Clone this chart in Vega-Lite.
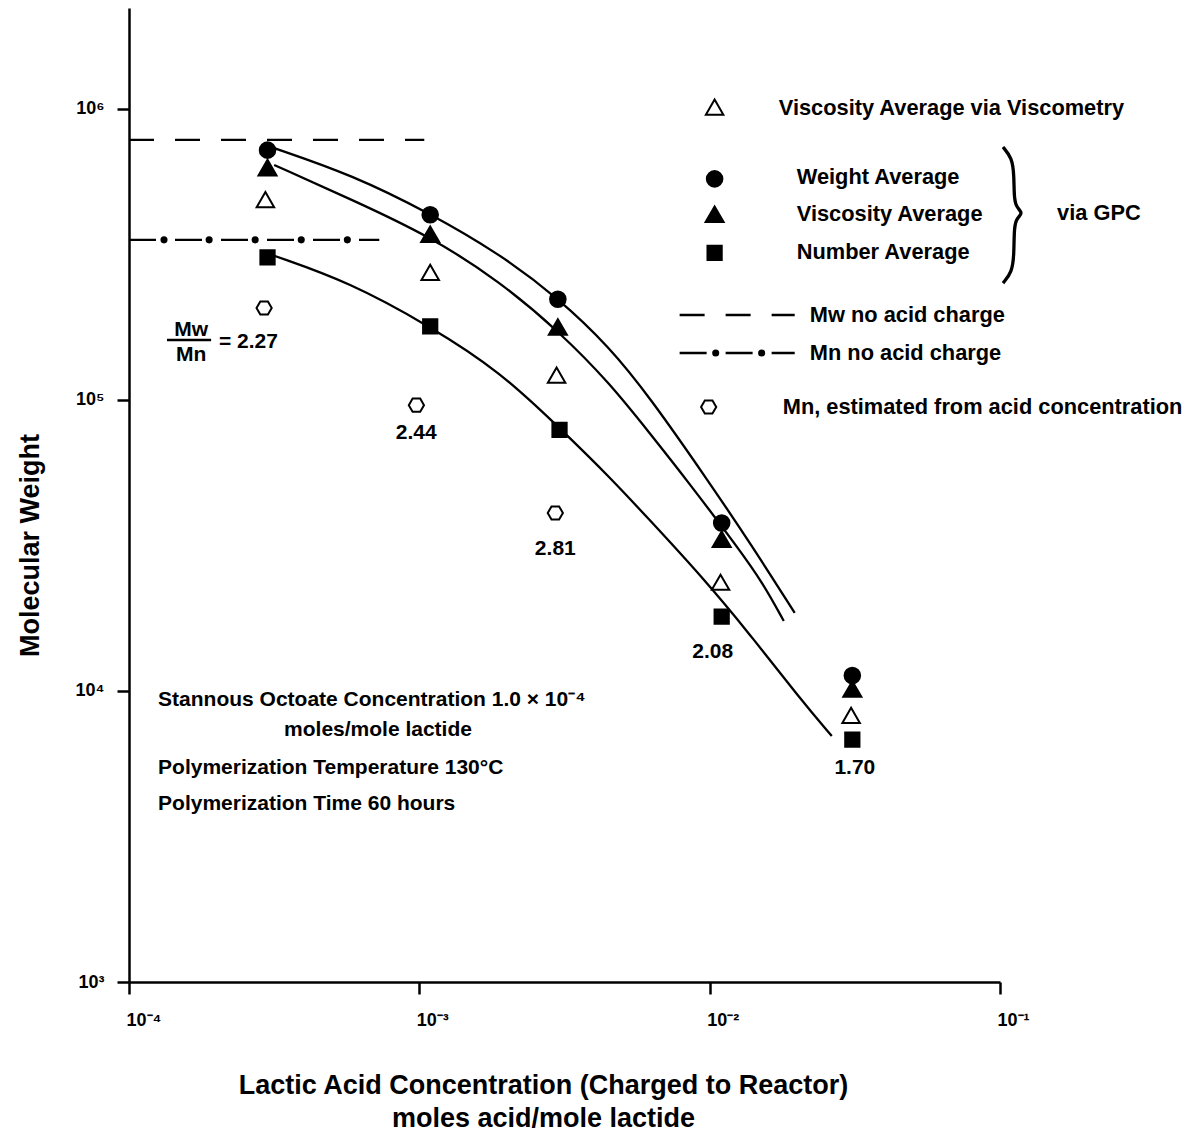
{
  "$schema": "https://vega.github.io/schema/vega-lite/v6.json",
  "width": 871,
  "height": 974,
  "autosize": {"type": "none"},
  "padding": {"left": 129, "top": 8, "right": 195, "bottom": 149},
  "background": "white",
  "config": {
    "view": {"stroke": null},
    "axis": {
      "labelFont": "Liberation Sans", "titleFont": "Liberation Sans",
      "labelFontWeight": "bold", "titleFontWeight": "bold",
      "labelColor": "black", "titleColor": "black",
      "domainColor": "black", "tickColor": "black", "grid": false,
      "domainWidth": 2.5, "tickWidth": 2.5, "tickSize": 12,
      "labelFontSize": 18, "titleFontSize": 27
    }
  },
  "datasets": {
    "points": [
      {"series": "Weight Average", "x": 0.0003, "y": 722000},
      {"series": "Weight Average", "x": 0.00109, "y": 433000},
      {"series": "Weight Average", "x": 0.003, "y": 222000},
      {"series": "Weight Average", "x": 0.011, "y": 37800},
      {"series": "Weight Average", "x": 0.031, "y": 11300},
      {"series": "Viscosity Average", "x": 0.0003, "y": 625000},
      {"series": "Viscosity Average", "x": 0.00109, "y": 369000},
      {"series": "Viscosity Average", "x": 0.003, "y": 177000},
      {"series": "Viscosity Average", "x": 0.011, "y": 33000},
      {"series": "Viscosity Average", "x": 0.031, "y": 10100},
      {"series": "Viscosity Average via Viscometry", "x": 0.000295, "y": 485000},
      {"series": "Viscosity Average via Viscometry", "x": 0.00109, "y": 273000},
      {"series": "Viscosity Average via Viscometry", "x": 0.00297, "y": 121000},
      {"series": "Viscosity Average via Viscometry", "x": 0.0109, "y": 23500},
      {"series": "Viscosity Average via Viscometry", "x": 0.0307, "y": 8200},
      {"series": "Number Average", "x": 0.0003, "y": 309000},
      {"series": "Number Average", "x": 0.00109, "y": 179000},
      {"series": "Number Average", "x": 0.00304, "y": 78900},
      {"series": "Number Average", "x": 0.011, "y": 18000},
      {"series": "Number Average", "x": 0.031, "y": 6800},
      {"series": "Mn, estimated from acid concentration", "x": 0.000292, "y": 207000},
      {"series": "Mn, estimated from acid concentration", "x": 0.000977, "y": 96000},
      {"series": "Mn, estimated from acid concentration", "x": 0.00294, "y": 40900}
    ],
    "legendSymbols": [
      {"series": "Viscosity Average via Viscometry", "x": 0.0104, "y": 1008000},
      {"series": "Weight Average", "x": 0.0104, "y": 575000},
      {"series": "Viscosity Average", "x": 0.0104, "y": 432000},
      {"series": "Number Average", "x": 0.0104, "y": 320000},
      {"series": "Mn, estimated from acid concentration", "x": 0.00992, "y": 94600}
    ],
    "curves": [
      {"series": "Weight Average", "x": 0.0003162, "y": 734000},
      {"series": "Weight Average", "x": 0.000588, "y": 593000},
      {"series": "Weight Average", "x": 0.001083, "y": 439000},
      {"series": "Weight Average", "x": 0.001888, "y": 318000},
      {"series": "Weight Average", "x": 0.00301, "y": 224000},
      {"series": "Weight Average", "x": 0.00452, "y": 152000},
      {"series": "Weight Average", "x": 0.00621, "y": 102400},
      {"series": "Weight Average", "x": 0.00984, "y": 53100},
      {"series": "Weight Average", "x": 0.01406, "y": 31300},
      {"series": "Weight Average", "x": 0.01963, "y": 18540},
      {"series": "Viscosity Average", "x": 0.0003162, "y": 642000},
      {"series": "Viscosity Average", "x": 0.000588, "y": 487000},
      {"series": "Viscosity Average", "x": 0.001083, "y": 366000},
      {"series": "Viscosity Average", "x": 0.001888, "y": 256000},
      {"series": "Viscosity Average", "x": 0.00304, "y": 171300},
      {"series": "Viscosity Average", "x": 0.00452, "y": 114400},
      {"series": "Viscosity Average", "x": 0.00621, "y": 77000},
      {"series": "Viscosity Average", "x": 0.00834, "y": 53100},
      {"series": "Viscosity Average", "x": 0.01269, "y": 30500},
      {"series": "Viscosity Average", "x": 0.01524, "y": 23500},
      {"series": "Viscosity Average", "x": 0.018, "y": 17400},
      {"series": "Number Average", "x": 0.0003162, "y": 313000},
      {"series": "Number Average", "x": 0.000574, "y": 254000},
      {"series": "Number Average", "x": 0.001083, "y": 179600},
      {"series": "Number Average", "x": 0.001888, "y": 125800},
      {"series": "Number Average", "x": 0.00309, "y": 78900},
      {"series": "Number Average", "x": 0.00452, "y": 54400},
      {"series": "Number Average", "x": 0.00621, "y": 38700},
      {"series": "Number Average", "x": 0.00924, "y": 25200},
      {"series": "Number Average", "x": 0.01374, "y": 15700},
      {"series": "Number Average", "x": 0.0204, "y": 9460},
      {"series": "Number Average", "x": 0.02634, "y": 7000}
    ],
    "refLines": [
      {"id": "Mw main", "kind": "Mw no acid charge", "x": 0.0001, "y": 783000},
      {"id": "Mw main", "kind": "Mw no acid charge", "x": 0.00104, "y": 783000},
      {"id": "Mn main", "kind": "Mn no acid charge", "x": 0.0001, "y": 355000},
      {"id": "Mn main", "kind": "Mn no acid charge", "x": 0.000728, "y": 355000},
      {"id": "Mw legend", "kind": "Mw no acid charge", "x": 0.00788, "y": 196000},
      {"id": "Mw legend", "kind": "Mw no acid charge", "x": 0.01963, "y": 196000},
      {"id": "Mn legend", "kind": "Mn no acid charge", "x": 0.00788, "y": 145100},
      {"id": "Mn legend", "kind": "Mn no acid charge", "x": 0.01963, "y": 145100},
      {"id": "fraction bar", "kind": "fraction bar", "x": 0.0001352, "y": 160800},
      {"id": "fraction bar", "kind": "fraction bar", "x": 0.0001918, "y": 160800}
    ],
    "mnDots": [
      {"x": 0.000132, "y": 355000},
      {"x": 0.0001888, "y": 355000},
      {"x": 0.000272, "y": 355000},
      {"x": 0.000392, "y": 355000},
      {"x": 0.000565, "y": 355000},
      {"x": 0.01049, "y": 145100},
      {"x": 0.0151, "y": 145100}
    ],
    "brace": [
      {"i": 1, "x": 0.1024, "y": 740000},
      {"i": 2, "x": 0.11, "y": 679000},
      {"i": 3, "x": 0.1118, "y": 593000},
      {"i": 4, "x": 0.1118, "y": 487000},
      {"i": 5, "x": 0.1145, "y": 457000},
      {"i": 6, "x": 0.12, "y": 439000},
      {"i": 7, "x": 0.1145, "y": 422000},
      {"i": 8, "x": 0.1118, "y": 396000},
      {"i": 9, "x": 0.1118, "y": 315000},
      {"i": 10, "x": 0.11, "y": 275000},
      {"i": 11, "x": 0.1024, "y": 252000}
    ],
    "centerLabels": [
      {"text": "2.44", "x": 0.000976, "y": 77000},
      {"text": "2.81", "x": 0.00294, "y": 30800},
      {"text": "2.08", "x": 0.01024, "y": 13610},
      {"text": "1.70", "x": 0.03162, "y": 5440},
      {"text": "Mw", "x": 0.0001636, "y": 174000},
      {"text": "Mn", "x": 0.0001636, "y": 142800}
    ],
    "leftLabels": [
      {"text": "= 2.27", "x": 0.000204, "y": 158200},
      {"text": "Stannous Octoate Concentration 1.0 × 10⁻⁴", "x": 0.0001259, "y": 9310},
      {"text": "moles/mole lactide", "x": 0.000342, "y": 7350},
      {"text": "Polymerization Temperature 130°C", "x": 0.0001259, "y": 5440},
      {"text": "Polymerization Time 60 hours", "x": 0.0001259, "y": 4090}
    ],
    "legendLabels": [
      {"text": "Viscosity Average via Viscometry", "x": 0.0173, "y": 1008000},
      {"text": "Weight Average", "x": 0.01995, "y": 584000},
      {"text": "Viscosity Average", "x": 0.01995, "y": 435000},
      {"text": "Number Average", "x": 0.01995, "y": 323000},
      {"text": "via GPC", "x": 0.1573, "y": 439000},
      {"text": "Mw no acid charge", "x": 0.02213, "y": 196000},
      {"text": "Mn no acid charge", "x": 0.02213, "y": 145100},
      {"text": "Mn, estimated from acid concentration", "x": 0.01785, "y": 94600}
    ]
  },
  "encoding": {
    "x": {
      "field": "x", "type": "quantitative",
      "scale": {"type": "log", "domain": [0.0001, 0.1], "nice": false, "zero": false},
      "axis": {
        "values": [0.0001, 0.001, 0.01, 0.1],
        "labelExpr": "datum.value < 0.0005 ? '10⁻⁴' : datum.value < 0.005 ? '10⁻³' : datum.value < 0.05 ? '10⁻²' : '10⁻¹'",
        "labelAlign": "left", "labelOffset": -3, "labelBaseline": "middle", "labelPadding": 26,
        "labelFlush": false, "labelOverlap": false,
        "title": ["Lactic Acid Concentration (Charged to Reactor)", "moles acid/mole lactide"],
        "titleX": 414, "titleY": 111, "titleAlign": "center", "titleBaseline": "alphabetic", "titleLineHeight": 33
      }
    },
    "y": {
      "field": "y", "type": "quantitative",
      "scale": {"type": "log", "domain": [1000, 2223000], "nice": false, "zero": false},
      "axis": {
        "values": [1000, 10000, 100000, 1000000],
        "labelExpr": "datum.value < 5000 ? '10³' : datum.value < 50000 ? '10⁴' : datum.value < 500000 ? '10⁵' : '10⁶'",
        "labelPadding": 13, "labelBaseline": "middle", "labelFlush": false, "labelOverlap": false,
        "title": "Molecular Weight",
        "titleX": -99, "titleY": 537, "titleAngle": -90, "titleAlign": "center", "titleBaseline": "middle"
      }
    }
  },
  "layer": [
    {
      "data": {"name": "curves"},
      "mark": {"type": "line", "color": "black", "strokeWidth": 2.3, "interpolate": "basis"},
      "encoding": {"detail": {"field": "series", "type": "nominal"}}
    },
    {
      "data": {"name": "refLines"},
      "mark": {"type": "line", "color": "black", "strokeWidth": 2.4},
      "encoding": {
        "detail": {"field": "id", "type": "nominal"},
        "strokeDash": {
          "field": "kind", "type": "nominal", "legend": null,
          "scale": {"domain": ["Mw no acid charge", "Mn no acid charge", "fraction bar"], "range": [[25, 21], [27, 19], [1, 0]]}
        }
      }
    },
    {
      "data": {"name": "mnDots"},
      "mark": {"type": "point", "shape": "circle", "filled": true, "color": "black", "size": 50, "opacity": 1}
    },
    {
      "data": {"name": "brace"},
      "mark": {"type": "line", "color": "black", "strokeWidth": 3.3, "interpolate": "basis"},
      "encoding": {"order": {"field": "i", "type": "quantitative"}}
    },
    {
      "data": {"name": "points"},
      "mark": {"type": "point", "stroke": "black", "strokeWidth": 2, "size": 361, "opacity": 1, "fillOpacity": 1},
      "encoding": {
        "shape": {
          "field": "series", "type": "nominal", "legend": null,
          "scale": {
            "domain": ["Viscosity Average via Viscometry", "Weight Average", "Viscosity Average", "Number Average", "Mn, estimated from acid concentration"],
            "range": [
              "M0,-0.88L0.92,0.72L-0.92,0.72Z",
              "M-0.82,0A0.82,0.82 0 1,0 0.82,0A0.82,0.82 0 1,0 -0.82,0Z",
              "M0,-0.9L0.95,0.74L-0.95,0.74Z",
              "M-0.75,-0.75L0.75,-0.75L0.75,0.75L-0.75,0.75Z",
              "M-0.8,0L-0.4,-0.69L0.4,-0.69L0.8,0L0.4,0.69L-0.4,0.69Z"
            ]
          }
        },
        "fill": {
          "field": "series", "type": "nominal", "legend": null,
          "scale": {
            "domain": ["Viscosity Average via Viscometry", "Weight Average", "Viscosity Average", "Number Average", "Mn, estimated from acid concentration"],
            "range": ["white", "black", "black", "black", "white"]
          }
        }
      }
    },
    {
      "data": {"name": "legendSymbols"},
      "mark": {"type": "point", "stroke": "black", "strokeWidth": 2, "size": 361, "opacity": 1, "fillOpacity": 1},
      "encoding": {
        "shape": {"field": "series", "type": "nominal", "legend": null},
        "fill": {"field": "series", "type": "nominal", "legend": null}
      }
    },
    {
      "data": {"name": "centerLabels"},
      "mark": {"type": "text", "align": "center", "baseline": "middle", "font": "Liberation Sans", "fontWeight": "bold", "fontSize": 21, "color": "black"},
      "encoding": {"text": {"field": "text", "type": "nominal"}}
    },
    {
      "data": {"name": "leftLabels"},
      "mark": {"type": "text", "align": "left", "baseline": "middle", "font": "Liberation Sans", "fontWeight": "bold", "fontSize": 21, "color": "black"},
      "encoding": {"text": {"field": "text", "type": "nominal"}}
    },
    {
      "data": {"name": "legendLabels"},
      "mark": {"type": "text", "align": "left", "baseline": "middle", "font": "Liberation Sans", "fontWeight": "bold", "fontSize": 21.8, "color": "black"},
      "encoding": {"text": {"field": "text", "type": "nominal"}}
    }
  ]
}
